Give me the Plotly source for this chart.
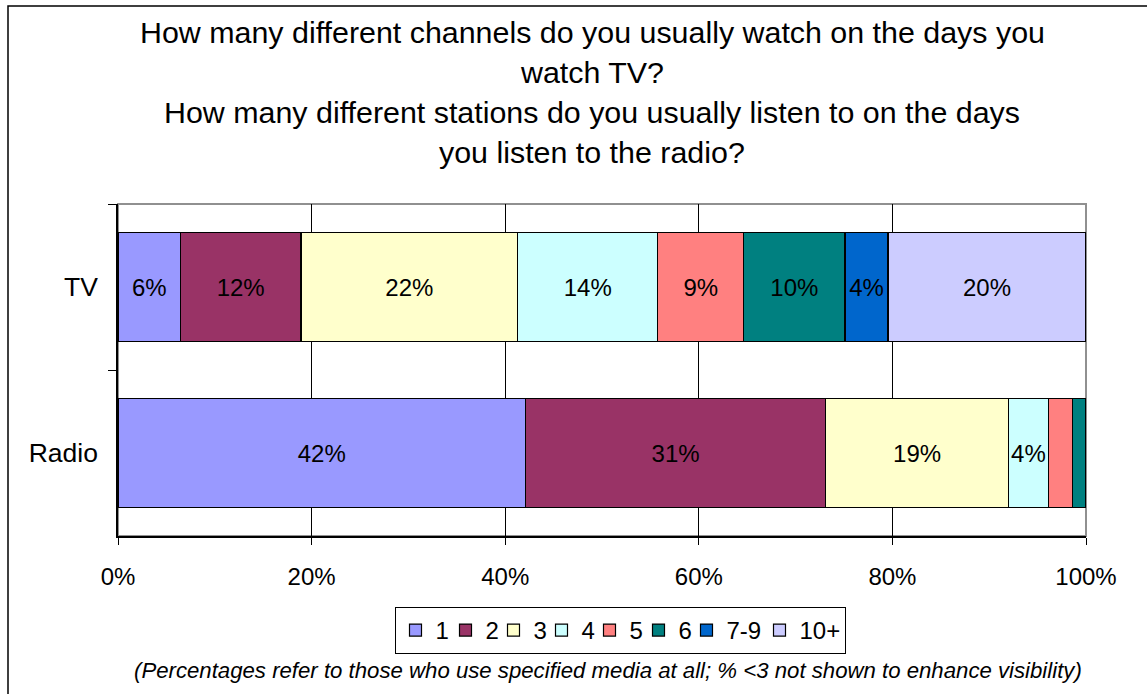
import plotly.graph_objects as go

# Media and the share of users by number of channels / stations watched
media = ["TV", "Radio"]
groups = ["1", "2", "3", "4", "5", "6", "7-9", "10+"]
tv_share = [6.45, 12.45, 22.4, 14.45, 8.9, 10.45, 4.45, 20.45]
radio_share = [42.1, 31.0, 18.9, 4.1, 2.5, 1.4, 0.0, 0.0]
colors = ["#9999FF", "#993366", "#FFFFCC", "#CCFFFF",
          "#FF8080", "#008080", "#0066CC", "#CCCCFF"]
x_ticks = [0, 20, 40, 60, 80, 100]
x_tick_text = [f"{v}%" for v in x_ticks]

title_lines = [
    "How many different channels do you usually watch on the days you",
    "watch TV?",
    "How many different stations do you usually listen to on the days",
    "you listen to the radio?",
]
footnote = ("(Percentages refer to those who use specified media at all; "
            "% <3 not shown to enhance visibility)")

FONT = "Arial, Liberation Sans, sans-serif"
W, H = 1147, 694
L, R, T, B = 118, 61, 204, 158
PW, PH = W - L - R, H - T - B

# compact legend entry widths (px) so the key stays tight
LEGEND_ENTRY_W = [5, 3, 3, 3, 4, 3, 28, 40]


def px_x(px):
    return (px - L) / PW


def px_y(py):
    return (H - B - py) / PH


def label(v):
    # values under 3% are left unlabelled
    return f"{round(v)}%" if v >= 3 else ""


fig = go.Figure()
for i, g in enumerate(groups):
    vals = [tv_share[i], radio_share[i]]
    fig.add_trace(go.Bar(
        name=g,
        y=media,
        x=vals,
        orientation="h",
        marker=dict(color=colors[i], line=dict(color="black", width=1.2)),
        text=[label(v) for v in vals],
        textposition="inside",
        insidetextanchor="middle",
        textangle=0,
        constraintext="none",
        insidetextfont=dict(family=FONT, size=24, color="black"),
        legendwidth=LEGEND_ENTRY_W[i],
        hoverinfo="skip",
    ))

annotations = []
for line, py in zip(title_lines, [32, 72, 112, 152]):
    annotations.append(dict(
        text=line, xref="paper", yref="paper", x=px_x(592), y=px_y(py),
        xanchor="center", yanchor="middle", showarrow=False,
        font=dict(family=FONT, size=30.4, color="black"),
    ))
annotations.append(dict(
    text=f"<i>{footnote}</i>", xref="paper", yref="paper",
    x=px_x(608), y=px_y(670), xanchor="center", yanchor="middle",
    showarrow=False, font=dict(family=FONT, size=22.2, color="black"),
))

shapes = [
    # plot-area frame
    dict(type="rect", xref="paper", yref="paper", x0=0, x1=1, y0=0, y1=1,
         line=dict(color="#909090", width=2), layer="between"),
    # chart-area frame
    dict(type="rect", xref="paper", yref="paper",
         x0=px_x(8), x1=px_x(1160), y0=px_y(720), y1=px_y(6),
         line=dict(color="black", width=1.5), layer="above"),
]

fig.update_layout(
    width=W, height=H,
    margin=dict(l=L, r=R, t=T, b=B, pad=0),
    barmode="stack",
    bargap=0.34,
    paper_bgcolor="white",
    plot_bgcolor="white",
    font=dict(family=FONT, size=24, color="black"),
    showlegend=True,
    legend=dict(
        orientation="h", x=px_x(620), y=px_y(607),
        xanchor="center", yanchor="top",
        bordercolor="black", borderwidth=1,
        font=dict(family=FONT, size=24, color="black"),
        itemwidth=30, traceorder="normal",
    ),
    annotations=annotations,
    shapes=shapes,
    xaxis=dict(
        range=[0, 100], tickmode="array", tickvals=x_ticks,
        ticktext=x_tick_text,
        showgrid=True, gridcolor="black", gridwidth=1,
        zeroline=False, showline=True, linecolor="black", linewidth=1.5,
        ticks="outside", ticklen=7, tickcolor="black",
        ticklabelstandoff=11,
        tickfont=dict(family=FONT, size=24, color="black"),
        fixedrange=True,
    ),
    yaxis=dict(
        categoryorder="array", categoryarray=media, autorange="reversed",
        showgrid=False, zeroline=False,
        showline=True, linecolor="black", linewidth=1.5,
        ticks="outside", tickson="boundaries", ticklen=8, tickcolor="black",
        ticklabelstandoff=13,
        tickfont=dict(family=FONT, size=26.5, color="black"),
        fixedrange=True,
    ),
)

fig.write_html("out.html")
